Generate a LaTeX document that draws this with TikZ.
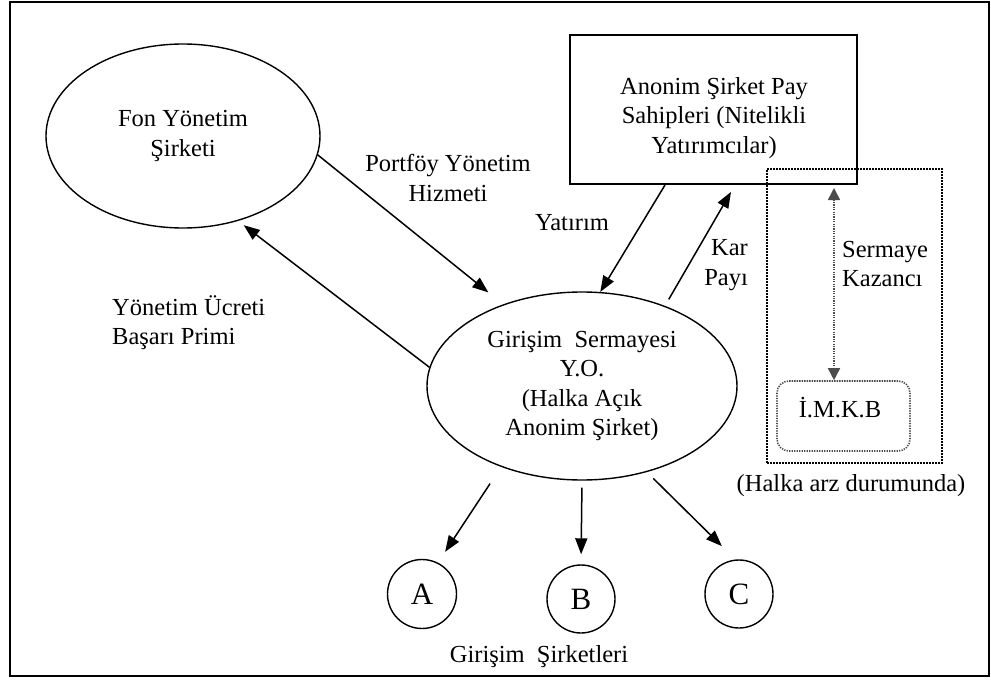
\documentclass[tikz,border=0pt]{standalone}
\usepackage{fontspec}
\setmainfont{Liberation Serif}
\usetikzlibrary{arrows.meta, shapes.geometric}

\begin{document}
\begin{tikzpicture}[
    x=1pt, y=-1pt, font=\fontsize{24.5}{29.5}\selectfont,
    ellip/.style={draw, ellipse, line width=1.4pt, inner sep=0pt, align=center},
    box/.style={draw, rectangle, line width=2pt, inner sep=0pt},
    dotbox/.style={draw, rectangle, line width=2.2pt, dash pattern=on 1.6pt off 1.4pt,
                   inner sep=0pt},
    rdot/.style={draw=black!70, rectangle, rounded corners=12pt, line width=1.6pt,
                 dash pattern=on 1.3pt off 1.2pt, inner sep=0pt},
    circ/.style={draw, circle, line width=1.4pt, inner sep=0pt,
                 font=\fontsize{31}{36}\selectfont},
    arr/.style={-{Triangle[length=16pt, width=12pt]}, line width=1.5pt},
    darr/.style={{Triangle[length=12pt, width=12pt]}-{Triangle[length=12pt, width=12pt]},
                 line width=1.6pt, draw=black!70, dash pattern=on 1.2pt off 1.2pt},
    lbl/.style={inner sep=0pt, align=center},
]
\useasboundingbox (0,0) rectangle (991,682);

% ===================== Çerçeve =====================
\draw[line width=2.5pt] (10,2) rectangle (989,676);

% ===================== Fon yönetim şirketi =====================
\node[ellip, minimum width=274pt, minimum height=184pt] (fon) at (183,136)
      {Fon Yönetim\\Şirketi};

% ===================== Pay sahipleri =====================
\node[box, minimum width=287pt, minimum height=149pt] (pay) at (713.5,109.5) {};
\node[lbl] (payt) at (714,118)
      {Anonim Şirket Pay\\Sahipleri (Nitelikli\\Yatırımcılar)};

% ===================== Girişim sermayesi Y.O. =====================
\node[ellip, minimum width=310pt, minimum height=188pt] (gir) at (582,386)
      {Girişim\ \ Sermayesi\\Y.O.\\(Halka Açık\\Anonim Şirket)};

% ===================== Halka arz kutusu =====================
\node[dotbox, minimum width=175pt, minimum height=294pt] (arz) at (854.5,316) {};
\node[rdot, minimum width=133pt, minimum height=70pt] (imkb) at (843.5,416) {};
\node[lbl] (imkbt) at (840,408) {İ.M.K.B};
\node[lbl] (arzt) at (851,486) {(Halka arz durumunda)};

% ===================== Girişim şirketleri =====================
\node[circ, minimum size=69pt] (a) at (422,594) {A};
\node[circ, minimum size=68pt] (b) at (581,599) {B};
\node[circ, minimum size=68pt] (c) at (739,594) {C};
\node[lbl] (sirk) at (539,657) {Girişim\ \ Şirketleri};

% ===================== Oklar =====================
\draw[arr, shorten >=19pt] (fon.-8) -- (gir.134);
\node[lbl] (portf) at (448,178) {Portföy Yönetim\\Hizmeti};

\draw[arr, shorten >=7pt] (gir.173) -- (fon.-57);
\node[lbl, align=left, anchor=west] (ucret) at (112,322.5)
      {Yönetim Ücreti\\Başarı Primi};

\draw[arr] ([xshift=-48.5pt]pay.south) -- (gir.79);
\node[lbl] (yat) at (572,223) {Yatırım};

\draw[arr, shorten <=7.5pt, shorten >=8pt] (gir.44) -- ([xshift=21.5pt]pay.south);
\node[lbl, align=right, anchor=east] (kar) at (748,265) {Kar\\Payı};

\coordinate (sk) at ([xshift=-9.5pt]imkb.north);
\draw[darr, shorten <=3pt] (sk |- pay.south) -- (sk);
\node[lbl, align=left, anchor=west] (kaz) at (842,264) {Sermaye\\Kazancı};

\draw[arr, shorten <=20pt, shorten >=13pt] (gir.-135) -- (a.63);
\draw[arr, shorten <=7pt, shorten >=10pt] (gir.south) -- (b.north);
\draw[arr, shorten <=9pt, shorten >=19pt] (gir.-53) -- (c.96);

\end{tikzpicture}
\end{document}
